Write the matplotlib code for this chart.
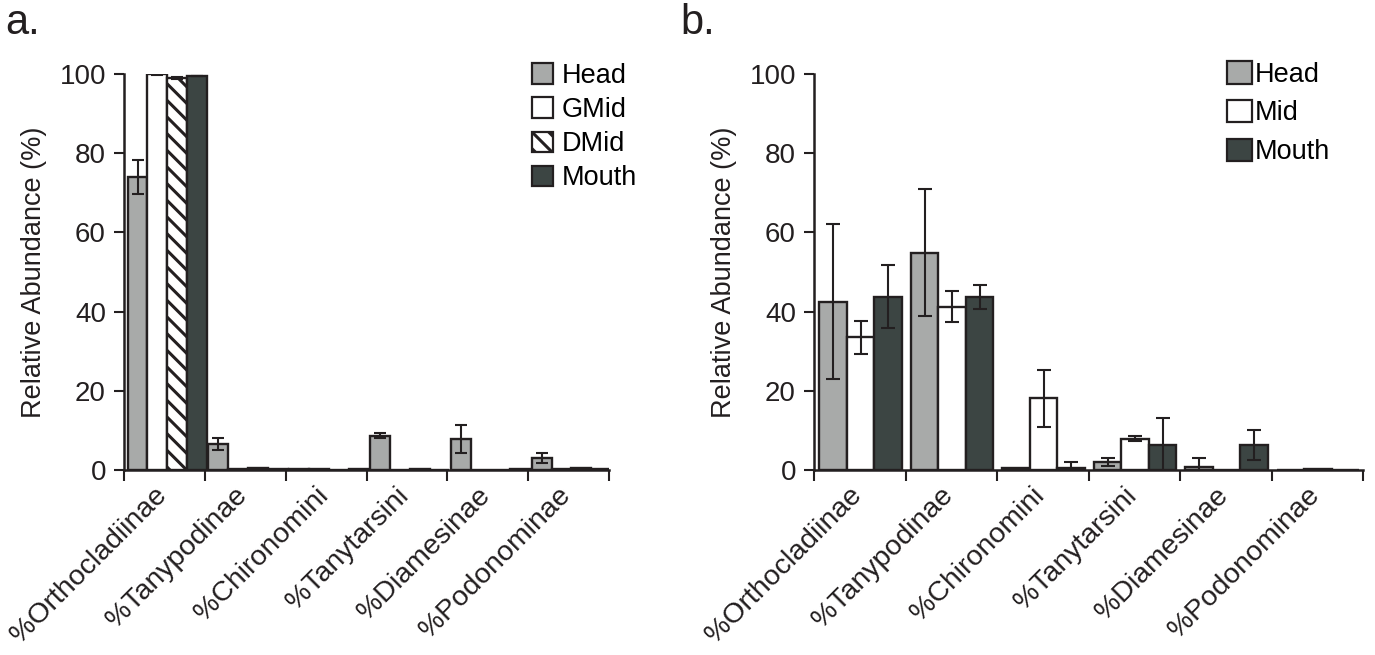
import matplotlib
matplotlib.use("Agg")
import matplotlib.pyplot as plt
import numpy as np
from matplotlib.patches import Patch

plt.rcParams['font.family'] = ['Liberation Sans', 'DejaVu Sans']
plt.rcParams['hatch.linewidth'] = 2.2

categories = ['%Orthocladiinae', '%Tanypodinae', '%Chironomini',
              '%Tanytarsini', '%Diamesinae', '%Podonominae']

# Panel a
a_series = ['Head', 'GMid', 'DMid', 'Mouth']
a_head = [74.0, 6.5, 0.2, 8.7, 7.8, 3.0]
a_head_err = [4.3, 1.5, 0.0, 0.6, 3.5, 1.3]
a_gmid = [100.0, 0.3, 0.3, 0.1, 0.1, 0.2]
a_gmid_err = [0.2, 0.0, 0.0, 0.0, 0.0, 0.0]
a_dmid = [99.0, 0.5, 0.0, 0.3, 0.0, 0.5]
a_dmid_err = [0.2, 0.0, 0.0, 0.0, 0.0, 0.0]
a_mouth = [99.5, 0.2, 0.2, 0.1, 0.2, 0.2]
a_mouth_err = [0.1, 0.0, 0.0, 0.0, 0.0, 0.0]

# Panel b
b_series = ['Head', 'Mid', 'Mouth']
b_head = [42.5, 54.9, 0.4, 2.0, 0.7, 0.1]
b_head_err = [19.5, 16.0, 0.0, 1.0, 2.3, 0.0]
b_mid = [33.5, 41.2, 18.1, 7.9, 0.1, 0.3]
b_mid_err = [4.1, 3.9, 7.2, 0.6, 0.0, 0.0]
b_mouth = [43.8, 43.6, 0.5, 6.2, 6.2, 0.1]
b_mouth_err = [8.0, 3.0, 1.5, 7.0, 3.8, 0.0]

ink = '#231F20'
c_head = '#A8AAA9'
c_mid = '#FFFFFF'
c_mouth = '#3C4543'

fig = plt.figure(figsize=(13.75, 6.55), dpi=100)
axA = fig.add_axes([124/1375, (655-470)/655, (609-124)/1375, (470-74)/655])
axB = fig.add_axes([814/1375, (655-470)/655, (1363-814)/1375, (470-74)/655])

def style(ax):
    ax.set_ylim(0, 100)
    ax.set_xlim(0, len(categories))
    ax.set_yticks([0, 20, 40, 60, 80, 100])
    ax.tick_params(axis='y', direction='out', length=7, width=1.5, color=ink,
                   labelsize=20, pad=6, labelcolor=ink)
    ax.set_xticks(np.arange(len(categories) + 1))
    ax.set_xticklabels([])
    ax.tick_params(axis='x', direction='out', length=8, width=1.5, color=ink)
    for s in ['top', 'right']:
        ax.spines[s].set_visible(False)
    for s in ['left', 'bottom']:
        ax.spines[s].set_linewidth(1.8)
        ax.spines[s].set_color(ink)
    ax.set_ylabel('Relative Abundance (%)', fontsize=19.5, color=ink, labelpad=9)
    centers = np.arange(len(categories)) + 0.5
    for c, lab in zip(centers, categories):
        ax.annotate(lab, xy=(c, 0), xycoords=('data', 'axes fraction'),
                    xytext=(-8, -9), textcoords='offset points',
                    rotation=45, ha='right', va='top', rotation_mode='anchor',
                    fontsize=20.5, color=ink)

x = np.arange(len(categories))

# Panel a bars
wa = 0.245
offs_a = [0.045 + wa * (i + 0.5) for i in range(4)]
fills_a = [(a_head, a_head_err, c_head, ''),
           (a_gmid, a_gmid_err, c_mid, ''),
           (a_dmid, a_dmid_err, c_mid, '\\\\'),
           (a_mouth, a_mouth_err, c_mouth, '')]
for (vals, errs, col, hatch), off in zip(fills_a, offs_a):
    axA.bar(x + off, vals, width=wa, color=col, edgecolor=ink, linewidth=1.7,
            hatch=hatch, zorder=2)
    xs = [xi + off for xi, e in zip(x, errs) if e > 0]
    ys = [v for v, e in zip(vals, errs) if e > 0]
    es = [e for e in errs if e > 0]
    axA.errorbar(xs, ys, yerr=es, fmt='none', zorder=3, ecolor=ink,
                 elinewidth=1.5, capsize=4, capthick=1.5)
style(axA)

# Panel b bars
wb = 0.3
offs_b = [0.06 + wb * (i + 0.5) for i in range(3)]
fills_b = [(b_head, b_head_err, c_head), (b_mid, b_mid_err, c_mid),
           (b_mouth, b_mouth_err, c_mouth)]
for (vals, errs, col), off in zip(fills_b, offs_b):
    axB.bar(x + off, vals, width=wb, color=col, edgecolor=ink, linewidth=1.7, zorder=2)
    xs = [xi + off for xi, e in zip(x, errs) if e > 0]
    ys = [v for v, e in zip(vals, errs) if e > 0]
    es = [e for e in errs if e > 0]
    axB.errorbar(xs, ys, yerr=es, fmt='none', zorder=3, ecolor=ink,
                 elinewidth=1.5, capsize=5, capthick=1.5)
style(axB)

# Legends
hA = [Patch(facecolor=c_head, edgecolor=ink, linewidth=1.6, label='Head'),
      Patch(facecolor=c_mid, edgecolor=ink, linewidth=1.6, label='GMid'),
      Patch(facecolor=c_mid, edgecolor=ink, linewidth=1.6, hatch='\\\\', label='DMid'),
      Patch(facecolor=c_mouth, edgecolor=ink, linewidth=1.6, label='Mouth')]
axA.legend(handles=hA, loc='upper left', bbox_to_anchor=(0.818, 1.055),
           frameon=False, fontsize=19.5, handlelength=0.8, handleheight=0.8,
           handletextpad=0.3, labelspacing=0.3, borderaxespad=0)
hB = [Patch(facecolor=c_head, edgecolor=ink, linewidth=1.6, label='Head'),
      Patch(facecolor=c_mid, edgecolor=ink, linewidth=1.6, label='Mid'),
      Patch(facecolor=c_mouth, edgecolor=ink, linewidth=1.6, label='Mouth')]
axB.legend(handles=hB, loc='upper left', bbox_to_anchor=(0.733, 1.06),
           frameon=False, fontsize=19.5, handlelength=0.9, handleheight=0.9,
           handletextpad=0.1, labelspacing=0.45, borderaxespad=0)

fig.text(5/1375, 1 - 34/655, 'a.', fontsize=30, color=ink, va='baseline')
fig.text(680/1375, 1 - 34/655, 'b.', fontsize=30, color=ink, va='baseline')

fig.savefig('out.png', dpi=100)
